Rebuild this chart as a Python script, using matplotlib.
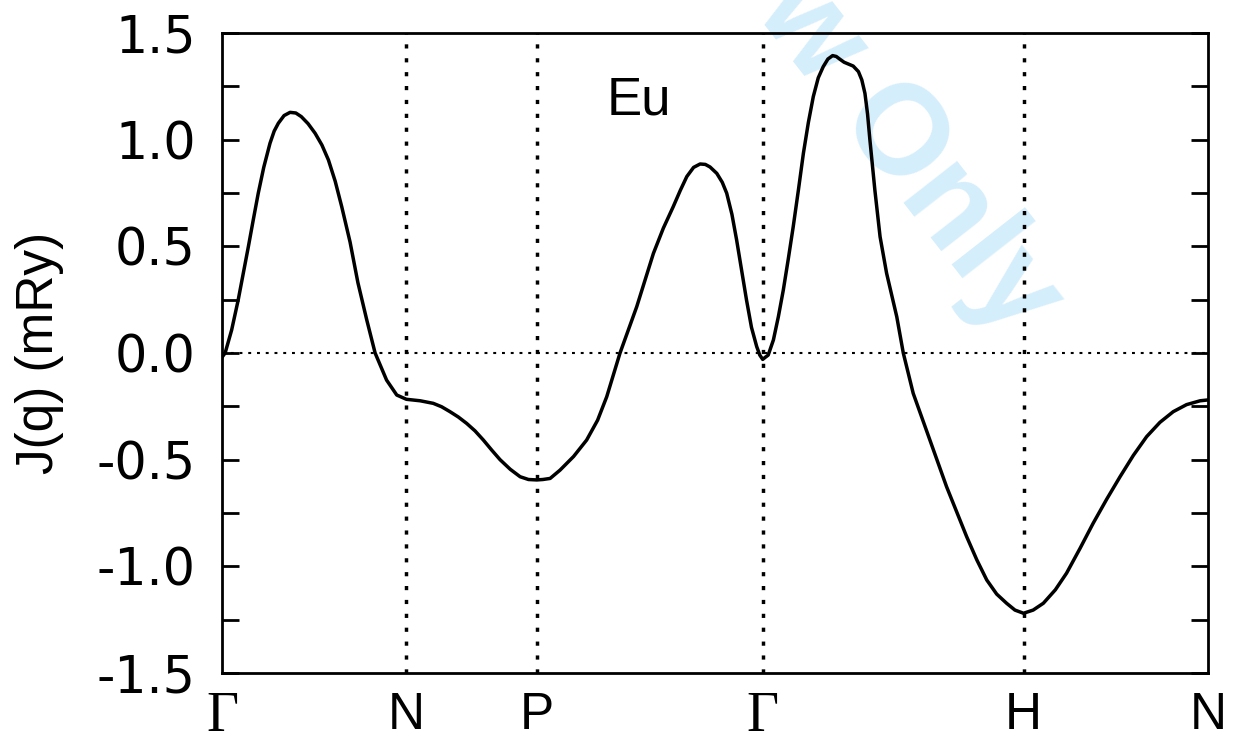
import numpy as np
import matplotlib.pyplot as plt
from matplotlib.ticker import FixedLocator, FixedFormatter

plt.rcParams['axes.unicode_minus'] = False

# ---- path through the bcc zone: Gamma-N-P-Gamma-H-N --------------------------
kp_labels = ['Γ', 'N', 'P', 'Γ', 'H', 'N']
seg_len = [np.sqrt(2) / 2, 0.5, np.sqrt(3) / 2, 1.0, np.sqrt(2) / 2]
kpts = np.concatenate([[0.0], np.cumsum(seg_len)])

# ---- J(q) (path length, mRy) -------------------------------------------------
# Gamma -> N
k_GN = [0.000, 0.012, 0.037, 0.062, 0.081, 0.101, 0.120, 0.139, 0.160, 0.184,
        0.200, 0.216, 0.238, 0.261, 0.283, 0.304, 0.330, 0.357, 0.383, 0.408,
        0.434, 0.459, 0.491, 0.521, 0.555, 0.587, 0.631, 0.670, 0.707]
J_GN = [-0.020, 0.000, 0.108, 0.248, 0.370, 0.498, 0.625, 0.749, 0.870, 0.983,
        1.040, 1.077, 1.113, 1.128, 1.125, 1.108, 1.075, 1.030, 0.975, 0.905,
        0.805, 0.686, 0.520, 0.330, 0.155, 0.000, -0.127, -0.197, -0.217]
# N -> P
k_NP = [0.760, 0.810, 0.842, 0.874, 0.906, 0.938, 0.970, 1.002, 1.034, 1.066,
        1.105, 1.143, 1.175, 1.207]
J_NP = [-0.224, -0.236, -0.252, -0.275, -0.300, -0.330, -0.365, -0.408, -0.455,
        -0.500, -0.545, -0.580, -0.593, -0.595]
# P -> Gamma
k_PG = [1.230, 1.258, 1.296, 1.348, 1.398, 1.440, 1.475, 1.500, 1.526, 1.590,
        1.654, 1.692, 1.730, 1.757, 1.782, 1.808, 1.833, 1.853, 1.871, 1.897,
        1.918, 1.935, 1.955, 1.973, 1.992, 2.011, 2.030, 2.050, 2.062, 2.073]
J_PG = [-0.593, -0.588, -0.549, -0.485, -0.408, -0.315, -0.205, -0.105, 0.000,
        0.217, 0.467, 0.585, 0.686, 0.762, 0.827, 0.870, 0.886, 0.884, 0.872,
        0.842, 0.800, 0.749, 0.650, 0.530, 0.390, 0.248, 0.120, 0.030, -0.010,
        -0.030]
# Gamma -> H
k_GH = [2.083, 2.094, 2.114, 2.133, 2.152, 2.171, 2.190, 2.210, 2.229, 2.248,
        2.267, 2.286, 2.305, 2.323, 2.341, 2.355, 2.369, 2.385, 2.401, 2.420,
        2.440, 2.453, 2.465, 2.475, 2.484, 2.503, 2.523, 2.548, 2.587, 2.612,
        2.650, 2.714, 2.778, 2.855, 2.894, 2.932, 2.970, 3.008, 3.040, 3.073]
J_GH = [-0.020, -0.010, 0.061, 0.170, 0.295, 0.440, 0.592, 0.765, 0.936, 1.080,
        1.202, 1.290, 1.342, 1.378, 1.394, 1.390, 1.377, 1.363, 1.355, 1.345,
        1.319, 1.280, 1.217, 1.120, 0.999, 0.764, 0.545, 0.374, 0.170, 0.000,
        -0.189, -0.408, -0.627, -0.861, -0.970, -1.064, -1.130, -1.173, -1.205,
        -1.220]
# H -> N
k_HN = [3.110, 3.149, 3.195, 3.238, 3.290, 3.340, 3.392, 3.443, 3.494, 3.545,
        3.596, 3.647, 3.698, 3.750, 3.780]
J_HN = [-1.205, -1.173, -1.110, -1.032, -0.915, -0.798, -0.685, -0.580, -0.480,
        -0.392, -0.325, -0.275, -0.242, -0.224, -0.220]

k = k_GN + k_NP + k_PG + k_GH + k_HN
J = J_GN + J_NP + J_PG + J_GH + J_HN

yticks = [-1.5, -1.0, -0.5, 0.0, 0.5, 1.0, 1.5]
ytick_labels = ['-1.5', '-1.0', '-0.5', '0.0', '0.5', '1.0', '1.5']

# ---- figure ------------------------------------------------------------------
fig = plt.figure(figsize=(12.33, 7.40), dpi=100)
ax = fig.add_axes([222 / 1233, 67 / 740, 986 / 1233, 640 / 740])
ax.set_facecolor('none')

ax.plot(k, J, color='black', lw=2.5, zorder=3, solid_joinstyle='round')
ax.axhline(0.0, color='black', lw=1.5, ls=(0, (1.4, 2.8)), zorder=2)
for x in kpts[1:-1]:
    ax.axvline(x, color='black', lw=2.5, ls=(0, (1.2, 2.8)), zorder=2)

ax.set_xlim(kpts[0], kpts[-1])
ax.set_ylim(-1.5, 1.5)

ax.xaxis.set_major_locator(FixedLocator(kpts))
ax.xaxis.set_major_formatter(FixedFormatter(kp_labels))
ax.tick_params(axis='x', length=0, pad=13)
for lab, name in zip(ax.get_xticklabels(), kp_labels):
    if name == 'Γ':
        lab.set_fontfamily('Liberation Serif')
        lab.set_fontsize(40)
    else:
        lab.set_fontfamily('Liberation Sans')
        lab.set_fontsize(37)

ax.yaxis.set_major_locator(FixedLocator(yticks))
ax.yaxis.set_major_formatter(FixedFormatter(ytick_labels))
ax.yaxis.set_minor_locator(FixedLocator(np.arange(-1.25, 1.5, 0.5)))
ax.tick_params(axis='y', which='both', direction='in', length=12, width=2,
               left=True, right=True, pad=19)
for lab in ax.get_yticklabels():
    lab.set_fontfamily('DejaVu Sans')
    lab.set_fontsize(36.5)

for sp in ax.spines.values():
    sp.set_linewidth(2.0)

fig.text(39 / 1233, 1 - 352.5 / 740, 'J(q) (mRy)', rotation=90,
         ha='center', va='center', fontsize=37, family='Liberation Sans')
ax.text(1.473, 1.116, 'Eu', ha='left', va='baseline', fontsize=38,
        family='Liberation Sans')

# watermark, behind the plot
fig.text(1011 / 1233, 1 - 341 / 740, 'Review Only', rotation=-52,
         rotation_mode='anchor', ha='right', va='baseline', fontsize=92,
         fontweight='bold', color='#d5eefb', family='Liberation Sans',
         zorder=-1)

fig.savefig('out.png', dpi=100)
